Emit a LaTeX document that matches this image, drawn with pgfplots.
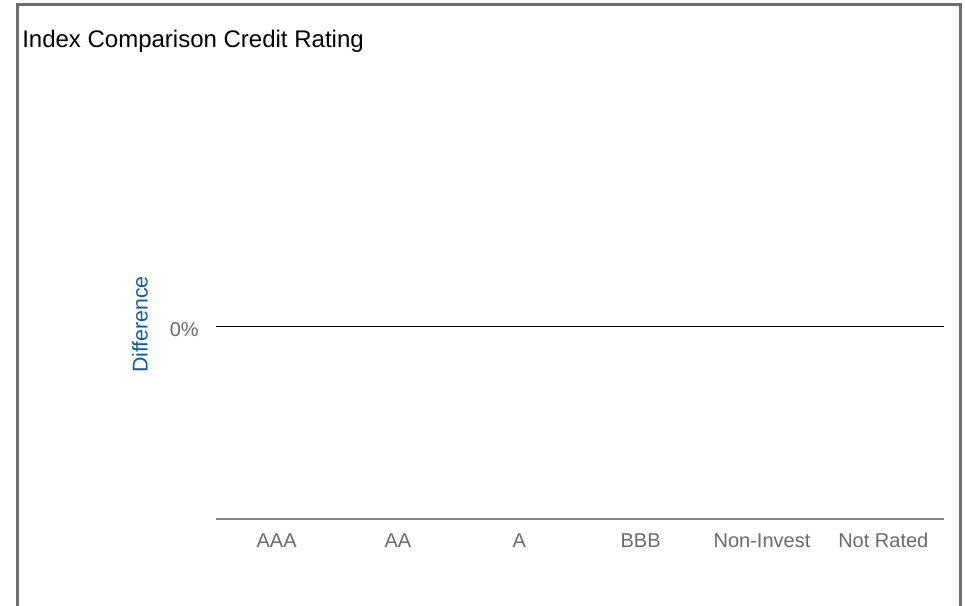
\documentclass[border=0pt]{standalone}
\usepackage{fontspec}
\setmainfont{Liberation Sans}
\usepackage{pgfplots}
\pgfplotsset{compat=1.18}
\definecolor{txtgray}{HTML}{6B6B6B}
\definecolor{axgray}{HTML}{858585}
\definecolor{framegray}{HTML}{6E6E6E}
\definecolor{lblblue}{HTML}{0B5CA8}
\begin{document}
\begin{tikzpicture}[x=0.75pt,y=0.75pt]
\useasboundingbox (0,0) rectangle (965,606);
\fill[white] (0,0) rectangle (965,606);
\draw[framegray, line width=2.25pt] (17.5,-20) -- (17.5,601.3) -- (960.7,601.3) -- (960.7,-20);
\node[anchor=base west, inner sep=0pt, font=\fontsize{18}{21}\selectfont] at (22,558.5) {Index Comparison Credit Rating};
\begin{axis}[
  at={(162pt,65.25pt)}, anchor=south west,
  scale only axis, width=546pt, height=288.75pt,
  xmin=-0.5, xmax=5.5, ymin=-1, ymax=1,
  axis x line=bottom, axis y line=left,
  x axis line style={axgray, line width=1.5pt, -},
  y axis line style={draw=none},
  major tick length=0pt,
  xtick={0,1,2,3,4,5},
  xticklabels={AAA,AA,A,BBB,Non-Invest,Not Rated},
  ytick={0}, yticklabels={0\%},
  /pgf/number format/assume math mode=true,
  tick label style={font=\fontsize{15}{18}\selectfont, text=txtgray, inner sep=0pt},
  xticklabel style={anchor=north, yshift=-10.5pt},
  yticklabel style={anchor=east, xshift=-12.75pt, yshift=-2.5pt},
  ylabel={Difference},
  ylabel style={at={(axis description cs:-0.1044,0.505)}, anchor=center, font=\fontsize{16}{19}\selectfont, text=lblblue},
  clip=false,
]
\addplot[black, line width=0.85pt] coordinates {(-0.5,0) (0,0) (1,0) (2,0) (3,0) (4,0) (5,0) (5.5,0)};
\end{axis}
\end{tikzpicture}
\end{document}
